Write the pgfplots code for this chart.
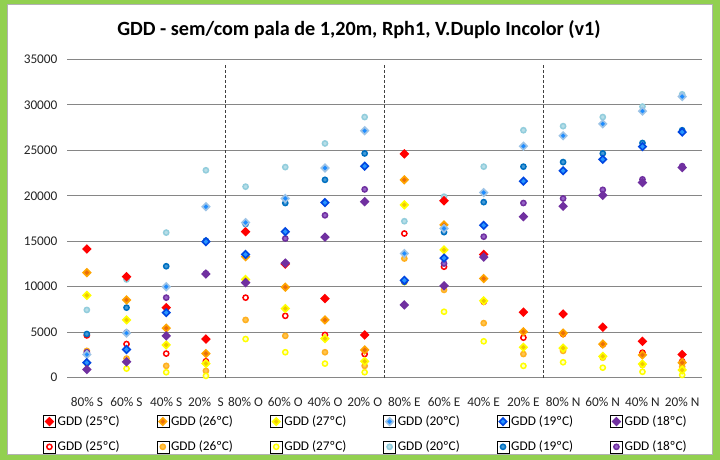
\documentclass[border=0pt]{standalone}
\usepackage{fontspec}
\setmainfont{Carlito}
\usepackage{pgfplots}
\pgfplotsset{compat=1.18}
\usepackage{pgfplotstable}

\definecolor{framegreen}{RGB}{146,208,80}
\definecolor{gridgray}{RGB}{134,134,134}
\definecolor{dred}{RGB}{255,0,0}
\definecolor{dorange}{RGB}{255,165,0}
\definecolor{dorangec}{RGB}{235,110,10}
\definecolor{dyellow}{RGB}{255,255,0}
\definecolor{dyellowc}{RGB}{240,200,0}
\definecolor{dlblue}{RGB}{157,195,230}
\definecolor{dlbluec}{RGB}{30,140,255}
\definecolor{dblue}{RGB}{0,70,225}
\definecolor{dbluec}{RGB}{40,150,255}
\definecolor{dpurple}{RGB}{112,48,160}
\definecolor{corange}{RGB}{255,176,32}
\definecolor{corangec}{RGB}{255,196,80}
\definecolor{cyellowc}{RGB}{255,255,200}
\definecolor{clblue}{RGB}{146,205,220}
\definecolor{clbluec}{RGB}{183,222,232}
\definecolor{cblue}{RGB}{0,112,192}
\definecolor{cbluec}{RGB}{70,155,215}
\definecolor{cpurplec}{RGB}{150,100,200}

\pgfplotstableread{
x D25 D26 D27 D20 D19 D18 C25 C26 C27 C20 C19 C18
0 14150 11550 9050 2550 1650 900 4650 2950 1600 7450 4800 2800
1 11100 8550 6350 4900 3100 1750 3700 2100 1000 10800 7700 4950
2 7700 5450 3600 10000 7150 4600 2650 1300 600 15950 12250 8800
3 4250 2650 1550 18800 14950 11400 1800 750 200 22800 15050 11450
4 16050 13300 10800 17050 13550 10450 8800 6350 4250 21000 16900 13400
5 12500 9950 7600 19700 16050 12600 6800 4600 2800 23150 19200 15300
6 8700 6350 4300 23050 19250 15450 4700 2800 1550 25750 21750 17850
7 4700 3050 1800 27150 23250 19350 2600 1300 600 28650 24650 20700
8 24600 21750 19000 13650 10700 8000 15850 13100 10500 17200 10550 10600
9 19450 16800 14050 16400 13150 10100 12200 9650 7250 19900 16000 12550
10 13550 10900 8450 20350 16750 13250 8350 6000 4000 23200 19300 15500
11 7200 5050 3350 25450 21600 17700 4400 2600 1300 27200 23200 19200
12 7000 4900 3250 26600 22750 18850 4800 2950 1700 27650 23700 19700
13 5550 3700 2350 27900 24000 20050 3650 2200 1100 28650 24650 20650
14 4000 2500 1500 29300 25400 21450 2750 1400 650 29800 25800 21800
15 2550 1650 850 30900 27000 23100 1800 1200 300 31150 27200 23250
}\datatable

\pgfplotsset{
  dmk/.style 2 args={only marks, mark=square*, mark options={rotate=45, draw=#1, fill=#2, line width=1.6pt, mark size=2.6pt, solid}},
  cmk/.style 2 args={only marks, mark=*, mark options={draw=#1, fill=#2, line width=1.5pt, mark size=2.6pt, solid}},
}

\begin{document}
\begin{tikzpicture}
\fill[framegreen] (0pt,0pt) rectangle (720pt,460pt);
\fill[white] (7pt,5pt) rectangle (713pt,456pt);
\draw[black!30, line width=0.8pt] (7.4pt,5.4pt) rectangle (712.6pt,455.6pt);
\node[font=\bfseries\fontsize{20.2}{24}\selectfont, anchor=base, inner sep=0pt] at (359pt,424pt) {GDD - sem/com pala de 1,20m, Rph1, V.Duplo Incolor (v1)};
\begin{axis}[
  at={(67pt,82.3pt)}, anchor=south west,
  width=635pt, height=318.4pt, scale only axis,
  xmin=-0.5, xmax=15.5, ymin=0, ymax=35000,
  clip=false,
  xtick={0,...,15},
  xticklabels={80\% S, 60\% S, 40\% S, 20\%\enspace S, 80\% O, 60\% O, 40\% O, 20\% O, 80\% E, 60\% E, 40\% E, 20\% E, 80\% N, 60\% N, 40\% N, 20\% N},
  ytick={0,5000,...,35000},
  scaled y ticks=false,
  /pgf/number format/assume math mode=true,
  /pgf/number format/set thousands separator={},
  ymajorgrids, major grid style={color=gridgray, line width=1.3pt},
  axis x line*=bottom, axis y line*=left,
  x axis line style={draw=none}, y axis line style={draw=none},
  tick style={draw=none},
  tick label style={font=\fontsize{13.3}{15}\selectfont, text=black!85},
  xticklabel style={yshift=-16pt},
  yticklabel style={xshift=-6pt},
  legend columns=6,
  legend style={at={(axis description cs:-0.0425,-0.1775)}, anchor=west, draw=none, fill=none,
    font=\fontsize{13.3}{15}\selectfont, row sep=10pt,
    /tikz/every even column/.append style={column sep=0pt},
    /tikz/every odd column/.append style={column sep=0pt}},
  legend image code/.code={\path (0pt,-6pt) rectangle (12pt,6pt); \draw[#1] plot coordinates {(6pt,0pt)};},
]
% circles first (drawn beneath), legend added later
\addplot[cmk={dred}{white}, forget plot] table[x=x, y=C25] {\datatable};
\addplot[cmk={corange}{corangec}, forget plot] table[x=x, y=C26] {\datatable};
\addplot[cmk={dyellow}{cyellowc}, forget plot] table[x=x, y=C27] {\datatable};
\addplot[cmk={clblue}{clbluec}, forget plot] table[x=x, y=C20] {\datatable};
\addplot[cmk={cblue}{cbluec}, forget plot] table[x=x, y=C19] {\datatable};
\addplot[cmk={dpurple}{cpurplec}, forget plot] table[x=x, y=C18] {\datatable};
% diamonds on top
\addplot[dmk={dred}{dred}] table[x=x, y=D25] {\datatable};
\addlegendentry{\makebox[97pt][l]{GDD (25ºC)}}
\addplot[dmk={dorange}{dorangec}] table[x=x, y=D26] {\datatable};
\addlegendentry{\makebox[97pt][l]{GDD (26ºC)}}
\addplot[dmk={dyellow}{dyellowc}] table[x=x, y=D27] {\datatable};
\addlegendentry{\makebox[97pt][l]{GDD (27ºC)}}
\addplot[dmk={dlblue}{dlbluec}] table[x=x, y=D20] {\datatable};
\addlegendentry{\makebox[97pt][l]{GDD (20ºC)}}
\addplot[dmk={dblue}{dbluec}] table[x=x, y=D19] {\datatable};
\addlegendentry{\makebox[97pt][l]{GDD (19ºC)}}
\addplot[dmk={dpurple}{dpurple}] table[x=x, y=D18] {\datatable};
\addlegendentry{GDD (18ºC)}
\addlegendimage{cmk={dred}{white}}
\addlegendentry{\makebox[97pt][l]{GDD (25ºC)}}
\addlegendimage{cmk={corange}{corangec}}
\addlegendentry{\makebox[97pt][l]{GDD (26ºC)}}
\addlegendimage{cmk={dyellow}{cyellowc}}
\addlegendentry{\makebox[97pt][l]{GDD (27ºC)}}
\addlegendimage{cmk={clblue}{clbluec}}
\addlegendentry{\makebox[97pt][l]{GDD (20ºC)}}
\addlegendimage{cmk={cblue}{cbluec}}
\addlegendentry{\makebox[97pt][l]{GDD (19ºC)}}
\addlegendimage{cmk={dpurple}{cpurplec}}
\addlegendentry{GDD (18ºC)}
% dashed separators
\draw[black!75, line width=1.1pt, dash pattern=on 3pt off 2pt] (axis cs:3.5,0) -- (axis cs:3.5,34600);
\draw[black!75, line width=1.1pt, dash pattern=on 3pt off 2pt] (axis cs:7.5,0) -- (axis cs:7.5,34600);
\draw[black!75, line width=1.1pt, dash pattern=on 3pt off 2pt] (axis cs:11.5,0) -- (axis cs:11.5,34600);
\end{axis}
\end{tikzpicture}
\end{document}
